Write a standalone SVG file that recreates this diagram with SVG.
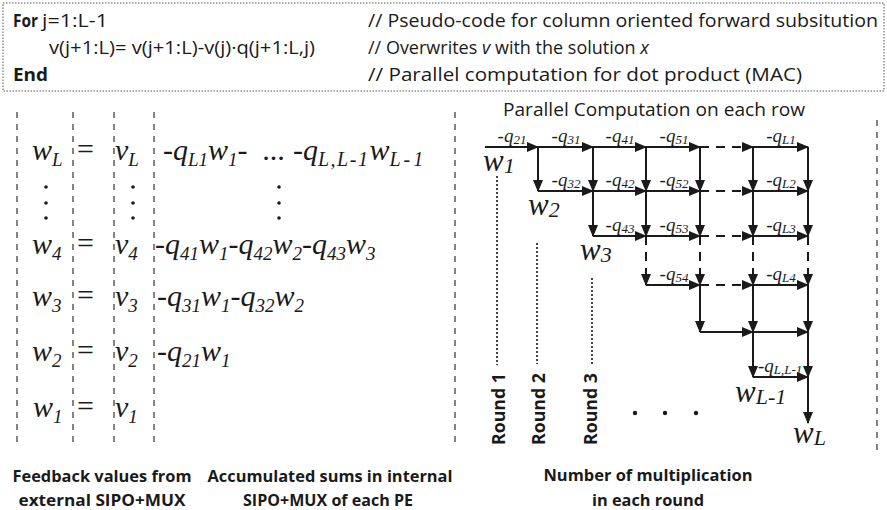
<svg xmlns="http://www.w3.org/2000/svg" width="887" height="510" viewBox="0 0 887 510">
<style>
.code{font-family:"Open Sans","Liberation Sans",sans-serif;font-size:18px;fill:#1a1a1a}
.b{font-weight:bold}
.it{font-style:italic}
.lbl{font-family:"Open Sans","Liberation Sans",sans-serif;font-size:16px;font-weight:bold;fill:#1a1a1a;text-anchor:middle}
.rnd{font-family:"Open Sans","Liberation Sans",sans-serif;font-size:17.5px;font-weight:bold;fill:#1a1a1a}
.eq{font-family:"Liberation Serif","Times New Roman",serif;font-style:italic;font-size:30px;fill:#1a1a1a}
.eqs{font-family:"Liberation Serif","Times New Roman",serif;font-size:30px;fill:#1a1a1a}
.ql{font-family:"Liberation Serif","Times New Roman",serif;font-style:italic;font-size:19px;fill:#1a1a1a}
.wl{font-family:"Liberation Serif","Times New Roman",serif;font-style:italic;font-size:31px;fill:#1a1a1a}
.sep{stroke:#333;stroke-width:1.2;stroke-dasharray:6 6;fill:none}
.arr{stroke:#1a1a1a;stroke-width:2;fill:none;marker-end:url(#ah)}
.arrd{stroke:#1a1a1a;stroke-width:2;fill:none;stroke-dasharray:9 7;marker-end:url(#ah)}
.dot{stroke:#1a1a1a;stroke-width:1.6;stroke-dasharray:2 2;fill:none}
</style>
<defs>
<marker id="ah" markerUnits="userSpaceOnUse" markerWidth="12" markerHeight="10" refX="11" refY="5" orient="auto">
<path d="M0,0 L12,5 L0,10 z" fill="#1a1a1a"/>
</marker>
</defs>
<rect width="887" height="510" fill="#fff"/>

<g id="code">
<rect x="3" y="3" width="881" height="88" fill="none" stroke="#555" stroke-width="1" stroke-dasharray="1.5 1.5"/>
<text class="code b" x="13" y="27" textLength="25" lengthAdjust="spacingAndGlyphs">For</text>
<text class="code" x="42" y="27" textLength="66" lengthAdjust="spacingAndGlyphs">j=1:L-1</text>
<text class="code" x="49" y="54" textLength="266" lengthAdjust="spacingAndGlyphs">v(j+1:L)= v(j+1:L)-v(j)·q(j+1:L,j)</text>
<text class="code b" x="13" y="81" textLength="35" lengthAdjust="spacingAndGlyphs">End</text>
<text class="code" x="368" y="27" textLength="510" lengthAdjust="spacingAndGlyphs">// Pseudo-code for column oriented forward subsitution</text>
<text class="code" x="368" y="54">// Overwrites <tspan class="it">v</tspan> with the solution <tspan class="it">x</tspan></text>
<text class="code" x="368" y="81" textLength="434" lengthAdjust="spacingAndGlyphs">// Parallel computation for dot product (MAC)</text>
</g>

<g id="equations">
<line class="sep" x1="17" y1="112" x2="17" y2="448"/>
<line class="sep" x1="73" y1="112" x2="73" y2="448"/>
<line class="sep" x1="114" y1="112" x2="114" y2="448"/>
<line class="sep" x1="154" y1="112" x2="154" y2="448"/>
<line class="sep" x1="455" y1="112" x2="455" y2="448"/>

<text class="eq" x="32" y="160">w<tspan font-size="19" dy="6">L</tspan></text>
<text class="eqs" x="77" y="159">=</text>
<text class="eq" x="115" y="160">v<tspan font-size="19" dy="6">L</tspan></text>
<text class="eq" x="163" y="160">-q<tspan font-size="19" dy="6">L1</tspan><tspan dy="-6">w</tspan><tspan font-size="19" dy="6">1</tspan><tspan dy="-6">-</tspan></text>
<text class="eq" x="263" y="160">...</text>
<text class="eq" x="293" y="160">-q<tspan font-size="20" dy="6" letter-spacing="1.5">L,L-1</tspan><tspan dy="-6">w</tspan><tspan font-size="20" dy="6" letter-spacing="3">L-1</tspan></text>

<circle cx="46" cy="187" r="1.8" fill="#1a1a1a"/><circle cx="46" cy="203" r="1.8" fill="#1a1a1a"/><circle cx="46" cy="218" r="1.8" fill="#1a1a1a"/>
<circle cx="133" cy="187" r="1.8" fill="#1a1a1a"/><circle cx="133" cy="203" r="1.8" fill="#1a1a1a"/><circle cx="133" cy="218" r="1.8" fill="#1a1a1a"/>
<circle cx="279" cy="187" r="1.8" fill="#1a1a1a"/><circle cx="279" cy="203" r="1.8" fill="#1a1a1a"/><circle cx="279" cy="218" r="1.8" fill="#1a1a1a"/>

<text class="eq" x="32" y="254">w<tspan font-size="19" dy="6">4</tspan></text>
<text class="eqs" x="77" y="253">=</text>
<text class="eq" x="115" y="254">v<tspan font-size="19" dy="6">4</tspan></text>
<text class="eq" x="155" y="254">-q<tspan font-size="19" dy="6">41</tspan><tspan dy="-6">w</tspan><tspan font-size="19" dy="6">1</tspan><tspan dy="-6">-q</tspan><tspan font-size="19" dy="6">42</tspan><tspan dy="-6">w</tspan><tspan font-size="19" dy="6">2</tspan><tspan dy="-6">-q</tspan><tspan font-size="19" dy="6">43</tspan><tspan dy="-6">w</tspan><tspan font-size="19" dy="6">3</tspan></text>

<text class="eq" x="32" y="306">w<tspan font-size="19" dy="6">3</tspan></text>
<text class="eqs" x="77" y="305">=</text>
<text class="eq" x="115" y="306">v<tspan font-size="19" dy="6">3</tspan></text>
<text class="eq" x="157" y="306">-q<tspan font-size="19" dy="6">31</tspan><tspan dy="-6">w</tspan><tspan font-size="19" dy="6">1</tspan><tspan dy="-6">-q</tspan><tspan font-size="19" dy="6">32</tspan><tspan dy="-6">w</tspan><tspan font-size="19" dy="6">2</tspan></text>

<text class="eq" x="32" y="361">w<tspan font-size="19" dy="6">2</tspan></text>
<text class="eqs" x="77" y="360">=</text>
<text class="eq" x="115" y="361">v<tspan font-size="19" dy="6">2</tspan></text>
<text class="eq" x="157" y="361">-q<tspan font-size="19" dy="6">21</tspan><tspan dy="-6">w</tspan><tspan font-size="19" dy="6">1</tspan></text>

<text class="eq" x="33" y="417">w<tspan font-size="19" dy="6">1</tspan></text>
<text class="eqs" x="77" y="416">=</text>
<text class="eq" x="115" y="417">v<tspan font-size="19" dy="6">1</tspan></text>
</g>

<g id="labels-left">
<text class="lbl" x="102" y="482" textLength="179" lengthAdjust="spacingAndGlyphs">Feedback values from</text>
<text class="lbl" x="102" y="506" textLength="167" lengthAdjust="spacingAndGlyphs">external SIPO+MUX</text>
<text class="lbl" x="330" y="482" textLength="245" lengthAdjust="spacingAndGlyphs">Accumulated sums in internal</text>
<text class="lbl" x="328" y="506" textLength="170" lengthAdjust="spacingAndGlyphs">SIPO+MUX of each PE</text>
</g>

<g id="title-right">
<text class="code" x="654" y="116" text-anchor="middle" textLength="302" lengthAdjust="spacingAndGlyphs">Parallel Computation on each row</text>
</g>

<line class="sep" x1="877" y1="120" x2="877" y2="452"/>

<g id="connectors">
<line class="arr" x1="485" y1="147" x2="538" y2="147"/>
<line class="arr" x1="538" y1="147" x2="593" y2="147"/>
<line class="arr" x1="593" y1="147" x2="646" y2="147"/>
<line class="arr" x1="646" y1="147" x2="700" y2="147"/>
<line class="arrd" x1="700" y1="147" x2="753" y2="147"/>
<line class="arr" x1="753" y1="147" x2="808" y2="147"/>
<line class="arr" x1="538" y1="147" x2="538" y2="191"/>
<line class="arr" x1="593" y1="147" x2="593" y2="191"/>
<line class="arr" x1="646" y1="147" x2="646" y2="191"/>
<line class="arr" x1="700" y1="147" x2="700" y2="191"/>
<line class="arr" x1="753" y1="147" x2="753" y2="191"/>
<line class="arr" x1="808" y1="147" x2="808" y2="191"/>
<line class="arr" x1="538" y1="191" x2="593" y2="191"/>
<line class="arr" x1="593" y1="191" x2="646" y2="191"/>
<line class="arr" x1="646" y1="191" x2="700" y2="191"/>
<line class="arrd" x1="700" y1="191" x2="753" y2="191"/>
<line class="arr" x1="753" y1="191" x2="808" y2="191"/>
<line class="arr" x1="593" y1="191" x2="593" y2="236"/>
<line class="arr" x1="646" y1="191" x2="646" y2="236"/>
<line class="arr" x1="700" y1="191" x2="700" y2="236"/>
<line class="arr" x1="753" y1="191" x2="753" y2="236"/>
<line class="arr" x1="808" y1="191" x2="808" y2="236"/>
<line class="arr" x1="593" y1="236" x2="646" y2="236"/>
<line class="arr" x1="646" y1="236" x2="700" y2="236"/>
<line class="arrd" x1="700" y1="236" x2="753" y2="236"/>
<line class="arr" x1="753" y1="236" x2="808" y2="236"/>
<line class="arrd" x1="646" y1="236" x2="646" y2="285"/>
<line class="arrd" x1="700" y1="236" x2="700" y2="285"/>
<line class="arrd" x1="753" y1="236" x2="753" y2="285"/>
<line class="arrd" x1="808" y1="236" x2="808" y2="285"/>
<line class="arr" x1="646" y1="285" x2="700" y2="285"/>
<line class="arrd" x1="700" y1="285" x2="753" y2="285"/>
<line class="arr" x1="753" y1="285" x2="808" y2="285"/>
<line class="arr" x1="700" y1="285" x2="700" y2="332"/>
<line class="arr" x1="753" y1="285" x2="753" y2="332"/>
<line class="arr" x1="808" y1="285" x2="808" y2="332"/>
<line class="arr" x1="700" y1="332" x2="753" y2="332"/>
<line class="arr" x1="753" y1="332" x2="808" y2="332"/>
<line class="arr" x1="753" y1="332" x2="753" y2="377"/>
<line class="arr" x1="808" y1="332" x2="808" y2="377"/>
<line class="arr" x1="753" y1="377" x2="808" y2="377"/>
<line class="arr" x1="808" y1="377" x2="808" y2="423"/>
<line class="dot" x1="497" y1="176" x2="497" y2="365"/>
<line class="dot" x1="537" y1="243" x2="537" y2="364"/>
<line class="dot" x1="592" y1="278" x2="592" y2="365"/>
</g>

<g id="weights">
<text class="ql" x="512" y="141.5" text-anchor="middle">-q<tspan font-size="13" dy="2">21</tspan></text>
<text class="ql" x="566" y="141.5" text-anchor="middle">-q<tspan font-size="13" dy="2">31</tspan></text>
<text class="ql" x="620" y="141.5" text-anchor="middle">-q<tspan font-size="13" dy="2">41</tspan></text>
<text class="ql" x="674" y="141.5" text-anchor="middle">-q<tspan font-size="13" dy="2">51</tspan></text>
<text class="ql" x="781" y="141.5" text-anchor="middle">-q<tspan font-size="13" dy="2">L1</tspan></text>
<text class="ql" x="566" y="185.5" text-anchor="middle">-q<tspan font-size="13" dy="2">32</tspan></text>
<text class="ql" x="620" y="185.5" text-anchor="middle">-q<tspan font-size="13" dy="2">42</tspan></text>
<text class="ql" x="674" y="185.5" text-anchor="middle">-q<tspan font-size="13" dy="2">52</tspan></text>
<text class="ql" x="781" y="185.5" text-anchor="middle">-q<tspan font-size="13" dy="2">L2</tspan></text>
<text class="ql" x="620" y="230.5" text-anchor="middle">-q<tspan font-size="13" dy="2">43</tspan></text>
<text class="ql" x="674" y="230.5" text-anchor="middle">-q<tspan font-size="13" dy="2">53</tspan></text>
<text class="ql" x="781" y="230.5" text-anchor="middle">-q<tspan font-size="13" dy="2">L3</tspan></text>
<text class="ql" x="674" y="279.5" text-anchor="middle">-q<tspan font-size="13" dy="2">54</tspan></text>
<text class="ql" x="781" y="279.5" text-anchor="middle">-q<tspan font-size="13" dy="2">L4</tspan></text>
<text class="ql" x="758" y="371.5">-q<tspan font-size="13" dy="2">L,L-1</tspan></text>
</g>

<g id="outputs">
<text class="wl" x="483" y="171">w<tspan font-size="22" dy="2">1</tspan></text>
<text class="wl" x="528" y="215">w<tspan font-size="22" dy="2">2</tspan></text>
<text class="wl" x="580" y="260">w<tspan font-size="22" dy="2">3</tspan></text>
<text class="wl" x="735" y="402">w<tspan font-size="22" dy="2">L-1</tspan></text>
<text class="wl" x="793" y="443">w<tspan font-size="22" dy="2">L</tspan></text>
</g>

<g id="rounds">
<text class="rnd" transform="translate(505,445) rotate(-90)" textLength="72" lengthAdjust="spacingAndGlyphs">Round 1</text>
<text class="rnd" transform="translate(545,445) rotate(-90)" textLength="72" lengthAdjust="spacingAndGlyphs">Round 2</text>
<text class="rnd" transform="translate(597,445) rotate(-90)" textLength="72" lengthAdjust="spacingAndGlyphs">Round 3</text>
<circle cx="635" cy="413" r="2.2" fill="#1a1a1a"/>
<circle cx="665" cy="413" r="2.2" fill="#1a1a1a"/>
<circle cx="696" cy="413" r="2.2" fill="#1a1a1a"/>
</g>

<g id="labels-right">
<text class="lbl" x="648" y="481" textLength="209" lengthAdjust="spacingAndGlyphs">Number of multiplication</text>
<text class="lbl" x="648" y="506" textLength="112" lengthAdjust="spacingAndGlyphs">in each round</text>
</g>
</svg>
